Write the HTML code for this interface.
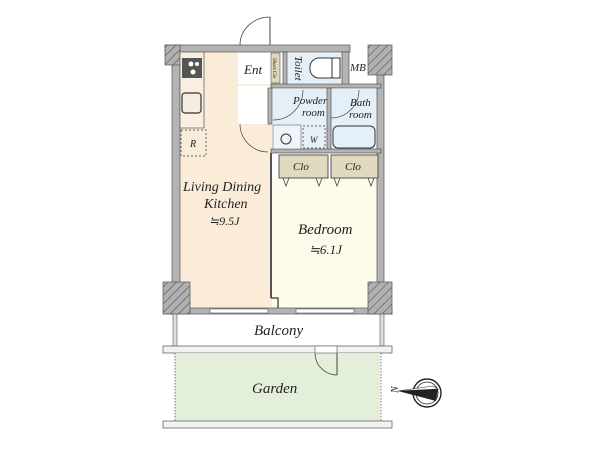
<!DOCTYPE html>
<html><head><meta charset="utf-8"><style>
html,body{margin:0;padding:0;background:#fff;width:600px;height:450px;overflow:hidden}
text{font-family:"Liberation Serif",serif;font-style:italic;fill:#222}
</style></head><body>
<svg width="600" height="450" viewBox="0 0 600 450" xmlns="http://www.w3.org/2000/svg">
<defs>
<pattern id="h" width="6" height="6" patternUnits="userSpaceOnUse" patternTransform="rotate(45)">
<rect width="6" height="6" fill="#b0b0b0"/><line x1="0" y1="0" x2="0" y2="6" stroke="#444" stroke-width="1"/></pattern>
</defs>
<rect x="180" y="52" width="92" height="256" fill="#fbecd9"/>
<rect x="272" y="178" width="106" height="130" fill="#fdfbea"/>
<rect x="238" y="52" width="33" height="32" fill="#fff"/>
<rect x="238" y="86" width="33" height="38" fill="#fff"/>
<rect x="271" y="53" width="9" height="30" fill="#e0d6b8" stroke="#555" stroke-width="0.6"/>
<rect x="287" y="53" width="55" height="30" fill="#e5eff8"/>
<rect x="273" y="89" width="54" height="60" fill="#e5eff8"/>
<rect x="331" y="89" width="47" height="60" fill="#e5eff8"/>
<rect x="349" y="52" width="19" height="28" fill="#fff"/>
<g fill="#b4b4b4" stroke="#555" stroke-width="0.7">
<rect x="165" y="45" width="185" height="7"/>
<rect x="172" y="45" width="8" height="240"/>
<rect x="377" y="75" width="7" height="210"/>
<rect x="165" y="308" width="227" height="6"/>
<rect x="342" y="52" width="7" height="34"/>
<rect x="283" y="52" width="4" height="34"/>
<rect x="271" y="84" width="110" height="4"/>
<rect x="327" y="88" width="4" height="62"/>
<rect x="271" y="149" width="110" height="4"/>
<rect x="268" y="88" width="4" height="36"/>
</g>
<rect x="165" y="45" width="15" height="20" fill="url(#h)" stroke="#555" stroke-width="0.7"/>
<rect x="368" y="45" width="24" height="30" fill="url(#h)" stroke="#555" stroke-width="0.7"/>
<rect x="163" y="282" width="27" height="32" fill="url(#h)" stroke="#555" stroke-width="0.7"/>
<rect x="368" y="282" width="24" height="32" fill="url(#h)" stroke="#555" stroke-width="0.7"/>
<line x1="271" y1="153" x2="271" y2="298" stroke="#555" stroke-width="2"/>
<path d="M271 298 H278 V308" fill="none" stroke="#555" stroke-width="1.5"/>
<g fill="#fff" stroke="#555" stroke-width="0.6">
<rect x="210" y="309" width="58" height="4"/><rect x="296" y="309" width="58" height="4"/>
</g>
<rect x="180" y="52" width="24" height="76" fill="#f8efe0" stroke="#555" stroke-width="0.7"/>
<rect x="182" y="58" width="20" height="20" fill="#555"/>
<circle cx="191" cy="64" r="2.5" fill="#fff"/><circle cx="197" cy="64" r="2" fill="#fff"/><circle cx="193" cy="72" r="2.5" fill="#fff"/>
<rect x="182" y="93" width="19" height="20" rx="3" fill="#f5eddf" stroke="#333" stroke-width="1.2"/>
<rect x="181" y="130" width="25" height="26" fill="none" stroke="#666" stroke-dasharray="2,2"/>
<text x="190" y="147" font-size="10">R</text>
<line x1="270" y1="17" x2="270" y2="45" stroke="#444" stroke-width="1"/>
<path d="M240 45 A30 28 0 0 1 270 17" fill="none" stroke="#444" stroke-width="0.8"/>
<path d="M240 124 A28 28 0 0 0 268 152" fill="none" stroke="#444" stroke-width="0.7"/>
<rect x="310" y="58" width="28" height="20" rx="9" fill="#fff" stroke="#333"/>
<rect x="332" y="58" width="8" height="20" fill="#fff" stroke="#333"/>
<path d="M273 120 A30 30 0 0 0 303 90" fill="none" stroke="#444" stroke-width="0.7"/>
<path d="M331 118 A28 28 0 0 0 359 90" fill="none" stroke="#444" stroke-width="0.7"/>
<rect x="273" y="125" width="28" height="24" fill="#eef4fa" stroke="#666" stroke-width="0.6"/>
<circle cx="286" cy="139" r="5" fill="none" stroke="#333"/>
<rect x="303" y="126" width="22" height="22" fill="none" stroke="#666" stroke-dasharray="2,2"/>
<text x="310" y="143" font-size="9">W</text>
<rect x="333" y="126" width="42" height="22" rx="5" fill="#e5eff8" stroke="#333"/>
<rect x="279" y="155" width="49" height="23" fill="#e0d8bf" stroke="#555"/>
<rect x="331" y="155" width="47" height="23" fill="#e0d8bf" stroke="#555"/>
<g fill="none" stroke="#444" stroke-width="0.8">
<path d="M283 178 l3 8 l3 -8"/><path d="M316 178 l3 8 l3 -8"/><path d="M334 178 l3 8 l3 -8"/><path d="M368 178 l3 8 l3 -8"/>
</g>
<rect x="173" y="314" width="4" height="32" fill="#ddd" stroke="#555" stroke-width="0.6"/>
<rect x="380" y="314" width="4" height="32" fill="#ddd" stroke="#555" stroke-width="0.6"/>
<rect x="163" y="346" width="229" height="7" fill="#f2f2f2" stroke="#555" stroke-width="0.7"/>
<rect x="175" y="353" width="205" height="68" fill="#e3efd8"/>
<line x1="175" y1="353" x2="175" y2="421" stroke="#777" stroke-dasharray="1.5,1.5"/>
<line x1="381" y1="353" x2="381" y2="421" stroke="#777" stroke-dasharray="1.5,1.5"/>
<rect x="315" y="346" width="22" height="7" fill="#fff" stroke="#555" stroke-width="0.6"/>
<line x1="337" y1="353" x2="337" y2="375" stroke="#444"/>
<path d="M315 353 A22 22 0 0 0 337 375" fill="none" stroke="#444" stroke-width="0.7"/>
<rect x="163" y="421" width="229" height="7" fill="#f2f2f2" stroke="#555" stroke-width="0.7"/>
<circle cx="427" cy="393" r="14" fill="#fff" stroke="#222" stroke-width="1.4"/>
<circle cx="427" cy="393" r="11" fill="none" stroke="#222" stroke-width="0.8"/>
<path d="M398 391 L438 389 L436 401 Z" fill="#222"/>
<path d="M398 391 L438 389 L433 386 Z" fill="#fff" stroke="#222" stroke-width="0.6"/>
<text x="392" y="393" font-size="10" font-style="normal" transform="rotate(-90 395 390)">N</text>
<text x="244" y="74" font-size="13">Ent</text>
<text x="273" y="58" font-size="5" transform="rotate(90 273 58)">Shoes Clo</text>
<text x="295" y="56" font-size="11" transform="rotate(90 295 56)">Toilet</text>
<text x="350" y="71" font-size="11">MB</text>
<text x="293" y="104" font-size="11">Powder</text>
<text x="302" y="116" font-size="11">room</text>
<text x="350" y="106" font-size="11">Bath</text>
<text x="349" y="118" font-size="11">room</text>
<text x="293" y="170" font-size="11">Clo</text>
<text x="345" y="170" font-size="11">Clo</text>
<text x="183" y="191" font-size="14">Living Dining</text>
<text x="204" y="208" font-size="14">Kitchen</text>
<text x="209" y="225" font-size="12">≒9.5J</text>
<text x="298" y="234" font-size="15">Bedroom</text>
<text x="309" y="254" font-size="13">≒6.1J</text>
<text x="254" y="335" font-size="15">Balcony</text>
<text x="252" y="393" font-size="15">Garden</text>
</svg>
</body></html>
